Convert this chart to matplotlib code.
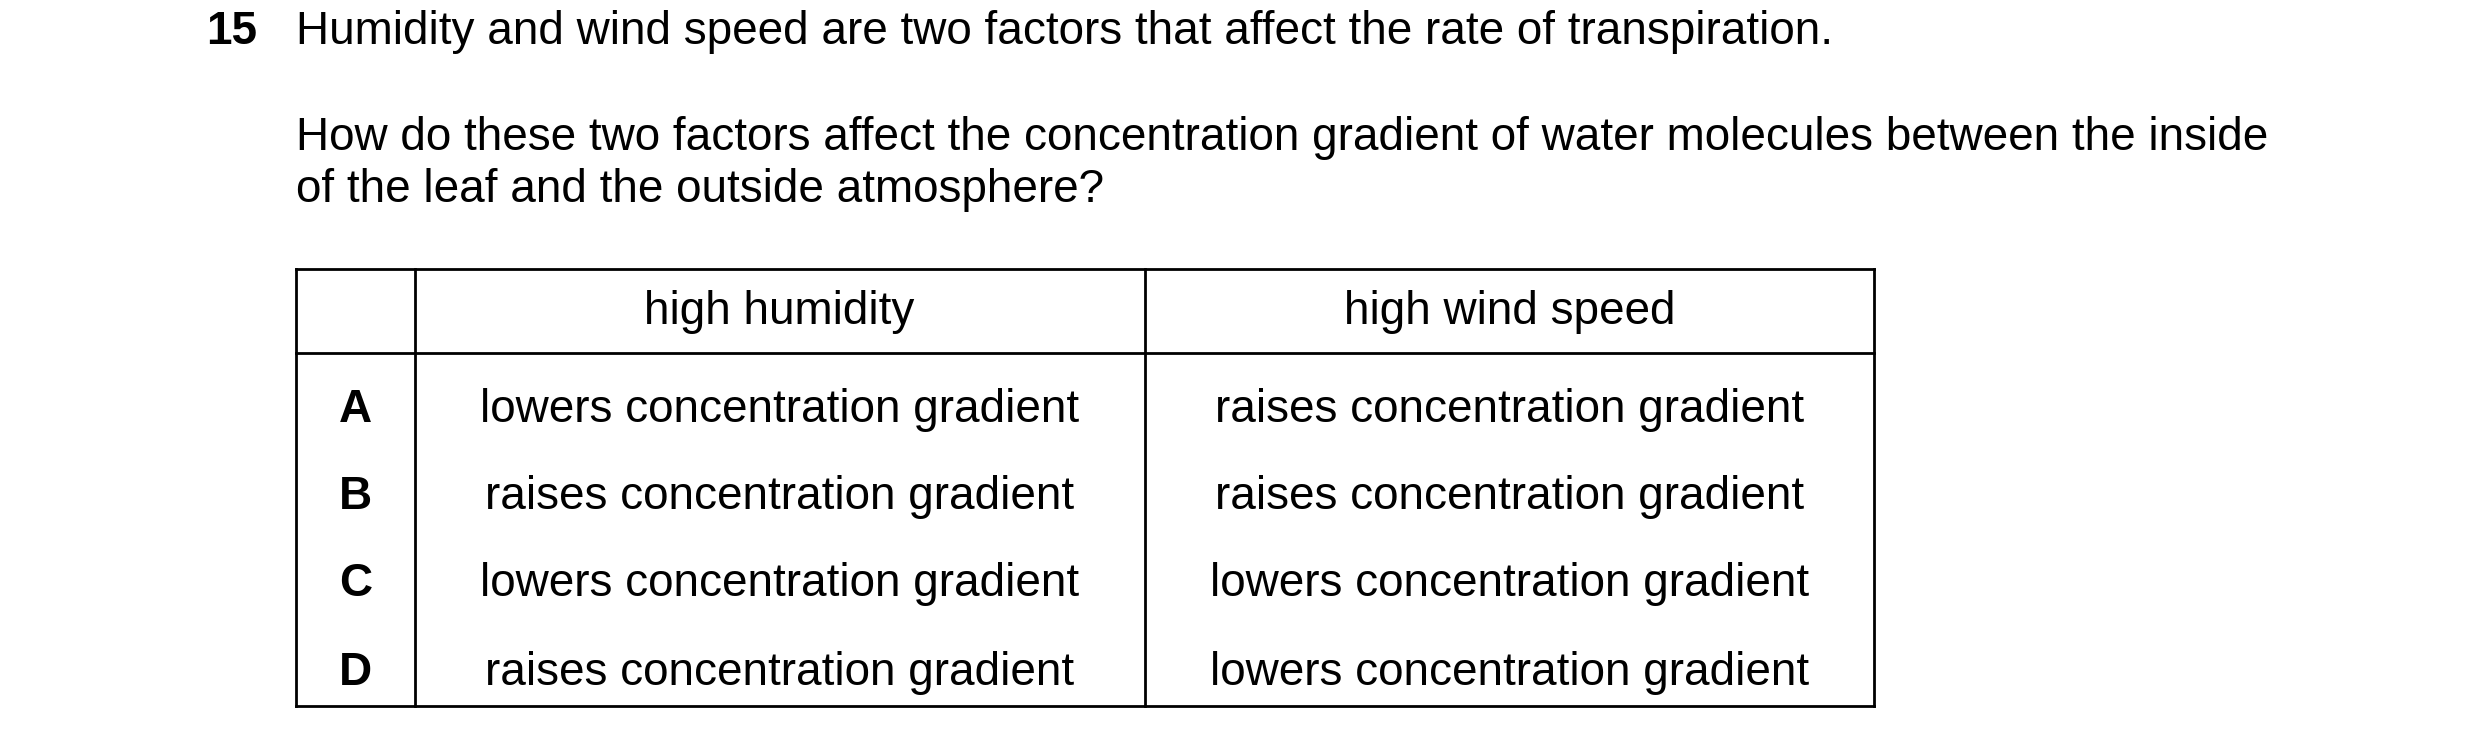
import matplotlib
matplotlib.use("Agg")
import matplotlib.pyplot as plt

question_number = "15"
question_lines = [
    "Humidity and wind speed are two factors that affect the rate of transpiration.",
    "How do these two factors affect the concentration gradient of water molecules between the inside",
    "of the leaf and the outside atmosphere?",
]
headers = ["", "high humidity", "high wind speed"]
options = ["A", "B", "C", "D"]
humidity = ["lowers concentration gradient", "raises concentration gradient",
            "lowers concentration gradient", "raises concentration gradient"]
wind = ["raises concentration gradient", "raises concentration gradient",
        "lowers concentration gradient", "lowers concentration gradient"]

S = 1.583
fig = plt.figure(figsize=(24.8, 7.46), dpi=100)
ax = fig.add_axes([0, 0, 1, 1])
ax.set_xlim(0, 2480); ax.set_ylim(746, 0); ax.axis("off")
F = dict(family=["Liberation Sans", "DejaVu Sans"], fontsize=33, color="black")

ax.text(130*S, 20*S, question_number, fontweight="bold", va="center", ha="left", **F)
ys = [20, 87, 120]
for t, y in zip(question_lines, ys):
    ax.text(187*S, y*S, t, va="center", ha="left", **F)

xs = [187, 262, 723, 1184]
top, hb, bot = 170, 223, 446
lw = 2.0
for x in xs:
    ax.plot([x*S, x*S], [top*S, bot*S], color="black", lw=lw)
for y in [top, hb, bot]:
    ax.plot([xs[0]*S, xs[-1]*S], [y*S, y*S], color="black", lw=lw)

centers = [(xs[i]+xs[i+1])/2*S for i in range(3)]
for c, h in zip(centers, headers):
    ax.text(c, 197*S, h, ha="center", va="center", **F)
row_y = [259, 314, 369, 425]
for y, o, h, w in zip(row_y, options, humidity, wind):
    ax.text(centers[0], y*S, o, ha="center", va="center", fontweight="bold", **F)
    ax.text(centers[1], y*S, h, ha="center", va="center", **F)
    ax.text(centers[2], y*S, w, ha="center", va="center", **F)

fig.savefig("out.png", dpi=100)
